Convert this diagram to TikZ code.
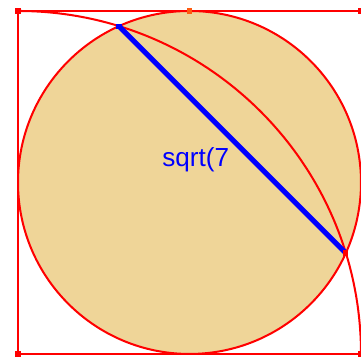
\documentclass[tikz,border=0pt]{standalone}
\usepackage{fontspec}
\setmainfont{Liberation Sans}
\usepackage{xcolor}
\usepackage{tikz}
\usetikzlibrary{positioning}
\definecolor{geored}{HTML}{FF0000}
\definecolor{geoblue}{HTML}{0000FF}
\definecolor{geotan}{HTML}{EFD598}
\definecolor{geoorange}{HTML}{FF5A10}
\tikzset{
  edge/.style={geored, line width=1pt},
  chord/.style={geoblue, line width=2.6pt},
  dot/.style={fill=#1, draw=none, minimum size=2.6pt, inner sep=0pt, rectangle},
  dot/.default=geored
}

\begin{document}
\begin{tikzpicture}[x=3cm,y=3cm]
  \useasboundingbox (-0.105,-0.023) rectangle (2.0,2.064);
  \coordinate (bl) at (0,0);
  \coordinate (tl) at (0,2);
  \coordinate (tr) at (2,2);
  \coordinate (br) at (2,0);
  \coordinate (tm) at (1,2);
  \coordinate (c) at (1,1);
  % intersections of circle and quarter arc
  \coordinate (p) at (0.58856,1.91144);
  \coordinate (q) at (1.91144,0.58856);
  \filldraw[edge, fill=geotan] (c) circle (1);
  \draw[edge] (tl) -- (tr);
  \draw[edge] (tl) -- (bl) -- (br);
  \draw[edge] (tl) arc[start angle=90, end angle=0, radius=2];
  \draw[chord] (p) -- (q);
  \node[anchor=base west, text=geoblue, font=\fontsize{13}{15}\selectfont] (lbl) at (0.80,1.096) {sqrt(7};
  \node[dot] (dtl) at (tl) {};
  \node[dot] (dbl) at (bl) {};
  \node[dot] (dtr) at (tr) {};
  \node[dot] (dbr) at (br) {};
  \node[dot=geoorange] (dtm) at (tm) {};
  \node[dot=geoblue] (dp) at (p) {};
  \node[dot=geored] (dq) at (q) {};
\end{tikzpicture}
\end{document}
